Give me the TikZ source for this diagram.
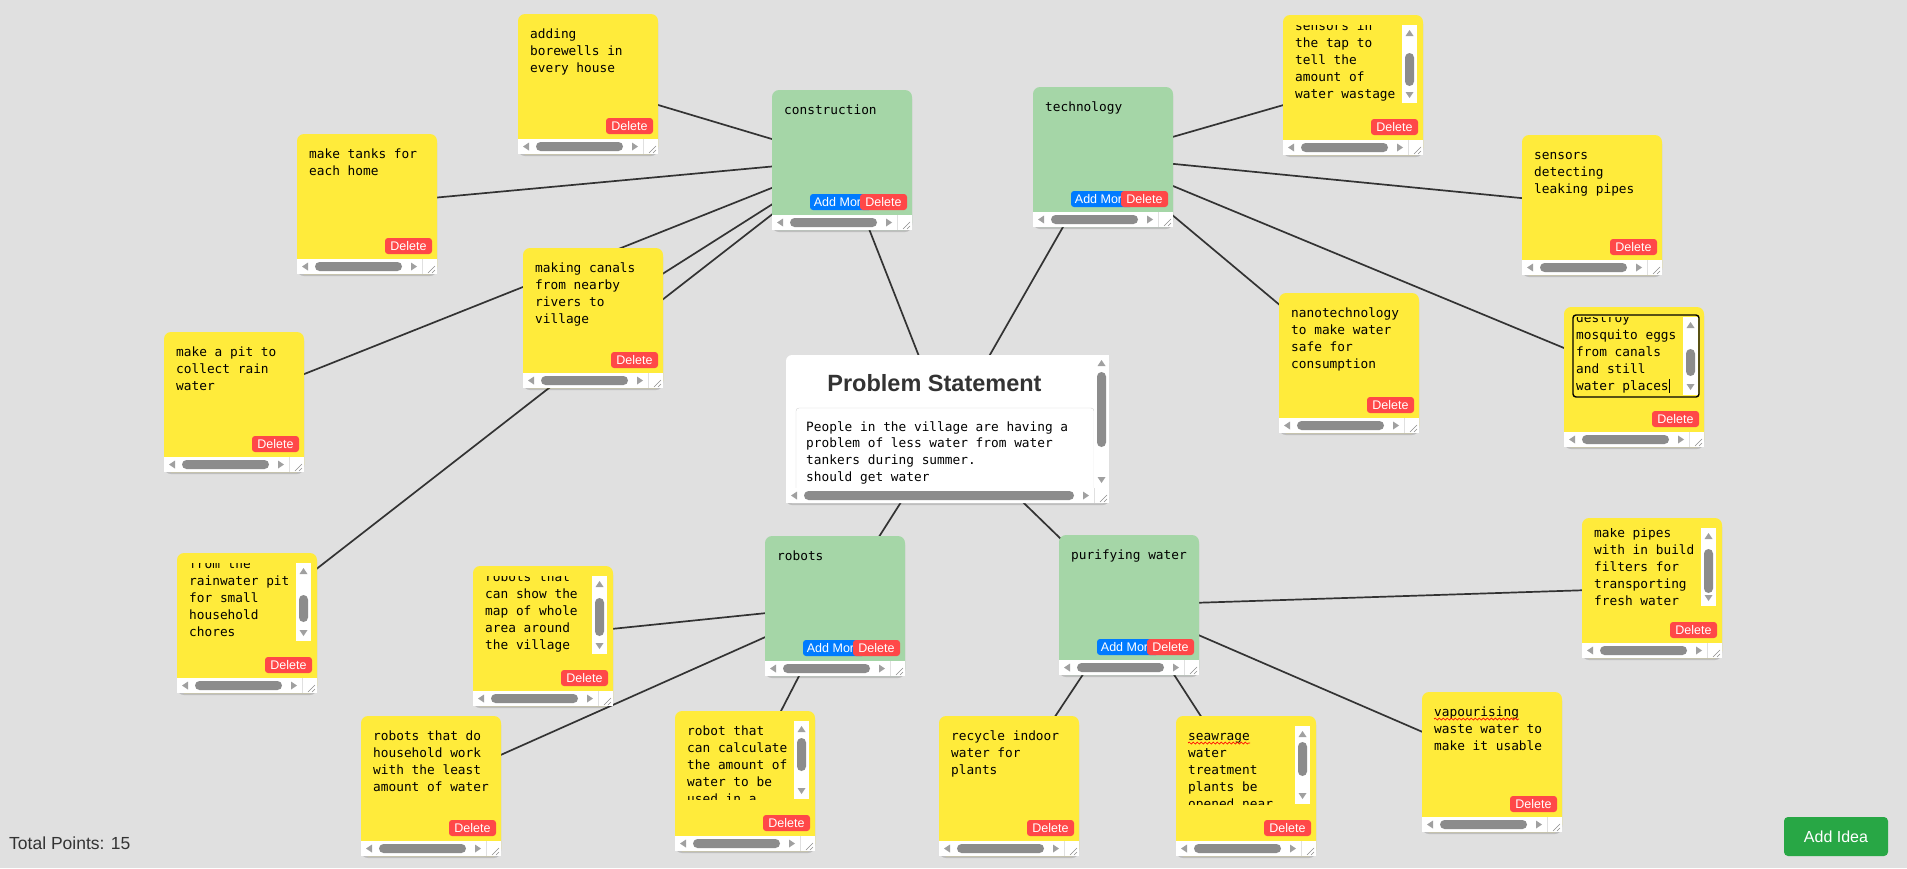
\documentclass[tikz,border=0pt]{standalone}
\usepackage{fontspec}
\setmainfont{Liberation Sans}
\setmonofont{DejaVu Sans Mono}
\usetikzlibrary{backgrounds,shadows,decorations.pathmorphing}
\definecolor{canvasgray}{RGB}{224,224,224}
\definecolor{noteyellow}{RGB}{255,235,59}
\definecolor{topicgreen}{RGB}{165,214,167}
\definecolor{delred}{RGB}{255,72,72}
\definecolor{addblue}{RGB}{0,123,255}
\definecolor{linkgray}{RGB}{51,51,51}
\definecolor{thumbgray}{RGB}{140,140,140}
\definecolor{arrowgray}{RGB}{160,160,160}
\definecolor{titlegray}{RGB}{51,51,51}
\definecolor{ideagreen}{RGB}{40,167,69}

\newcommand{\notefont}{\ttfamily\fontsize{12.8}{17}\selectfont}
\newcommand{\btnfont}{\fontsize{12.5}{14}\selectfont}
\newcommand{\titlefont}{\bfseries\fontsize{23.5}{28}\selectfont}

\tikzset{
  card/.style={rectangle, rounded corners=7pt, minimum width=140pt, minimum height=140pt,
    inner sep=0pt, drop shadow={opacity=.15, fill=black, shadow xshift=0pt, shadow yshift=-2pt}},
  notetext/.style={anchor=base west, inner sep=0pt, font=\notefont, text=black},
  delbtn/.style={rectangle, rounded corners=3pt, fill=delred, text=white, font=\btnfont,
    minimum width=47pt, minimum height=16pt, inner sep=0pt},
  addbtn/.style={delbtn, fill=addblue, minimum width=62pt},
  link/.style={draw=linkgray, line width=1.7pt},
  spell/.style={draw=red, line width=.7pt, decorate, decoration={snake, amplitude=1pt, segment length=4pt}}
}

% scroll bars: left x, top y, width / left x, top y, bottom y, thumb top, thumb bottom
\newcommand{\hscrollbar}[3]{%
  \fill[white] (#1,#2) rectangle ++(#3,15);
  \fill[arrowgray] (#1+5,#2+7.5) -- ++(6,-4) -- ++(0,8) -- cycle;
  \fill[thumbgray, rounded corners=4.5pt] (#1+18,#2+3) rectangle (#1+#3-35,#2+12);
  \fill[arrowgray] (#1+#3-20,#2+7.5) -- ++(-6,-4) -- ++(0,8) -- cycle;
  \draw[black!12] (#1+#3-15,#2) -- ++(0,15);
  \draw[black!45, line width=.6pt] (#1+#3-9,#2+14) -- ++(7,-7) (#1+#3-5,#2+14) -- ++(3,-3);
}
\newcommand{\vscrollbar}[5]{%
  \fill[white] (#1,#2) rectangle (#1+15,#3);
  \fill[arrowgray] (#1+7.5,#2+5) -- (#1+11.5,#2+11) -- (#1+3.5,#2+11) -- cycle;
  \fill[thumbgray, rounded corners=4.5pt] (#1+3,#4) rectangle (#1+12,#5);
  \fill[arrowgray] (#1+7.5,#3-5) -- (#1+11.5,#3-11) -- (#1+3.5,#3-11) -- cycle;
}

% yellow note: name, x, y, lines
\newcommand{\idea}[4]{%
  \node[card, fill=noteyellow] (#1) at (#2+70,#3+70) {};
  \foreach \noteline [count=\i] in {#4}
    \node[notetext] (#1-\i) at (#2+12,#3+7+17*\i) {\noteline};
  \node[delbtn] (#1-del) at (#2+111.5,#3+112) {Delete};
  \hscrollbar{#2}{#3+125}{140}
}
% yellow note with scrolled text: name, x, y, first baseline, thumb top, thumb bottom, lines
\newcommand{\scrollidea}[7]{%
  \node[card, fill=noteyellow] (#1) at (#2+70,#3+70) {};
  \begin{scope}
    \clip (#2,#3+10) rectangle (#2+119,#3+88);
    \foreach \noteline [count=\i] in {#7}
      \node[notetext] (#1-\i) at (#2+12,#3+#4-17+17*\i) {\noteline};
  \end{scope}
  \vscrollbar{#2+119}{#3+10}{#3+88}{#3+#5}{#3+#6}
  \node[delbtn] (#1-del) at (#2+111.5,#3+112) {Delete};
  \hscrollbar{#2}{#3+125}{140}
}
% green topic: name, x, y, label
\newcommand{\topic}[4]{%
  \node[card, fill=topicgreen] (#1) at (#2+70,#3+70) {};
  \node[notetext] (#1-1) at (#2+12,#3+24) {#4};
  \node[addbtn] (#1-add) at (#2+69,#3+112) {Add More};
  \node[delbtn] (#1-del) at (#2+111.5,#3+112) {Delete};
  \hscrollbar{#2}{#3+125}{140}
}

\begin{document}
\begin{tikzpicture}[x=1pt, y=-1pt]
  \useasboundingbox (0,0) rectangle (1907,868);
  \begin{scope}[on background layer]
    \fill[canvasgray] (0,0) rectangle (1907,868);
  \end{scope}

  % problem statement
  \node[card, fill=white, minimum width=323pt, minimum height=148pt, rounded corners=6pt] (problem) at (947.5,429) {};
  \node[font=\titlefont, text=titlegray, inner sep=0pt] (problem-title) at (934.5,383.3) {Problem Statement};
  \draw[black!18, rounded corners=3pt] (796,408) rectangle (1094,495);
  \foreach \noteline [count=\i] in {People in the village are having a,problem of less water from water,tankers during summer.,should get water}
    \node[notetext] (problem-\i) at (806,414.2+16.8*\i) {\noteline};
  \vscrollbar{1094}{355}{488}{372}{447}
  \hscrollbar{786}{488}{323}

  % topics
  \topic{construction}{772}{90}{construction}
  \topic{technology}{1033}{87}{technology}
  \topic{robots}{765}{536}{robots}
  \topic{purifying}{1059}{535}{purifying water}

  % ideas
  \idea{borewell}{518}{14}{adding,borewells in,every house}
  \idea{tanks}{297}{134}{make tanks for,each home}
  \idea{canals}{523}{248}{making canals,from nearby,rivers to,village}
  \idea{pit}{164}{332}{make a pit to,collect rain,water}
  \scrollidea{reuse}{177}{553}{15.3}{42}{69}{from the,rainwater pit,for small,household,chores}

  \scrollidea{tapsensor}{1283}{15}{15}{38}{71}{sensors in,the tap to,tell the,amount of,water wastage}
  \idea{leaksensor}{1522}{135}{sensors,detecting,leaking pipes}
  \idea{nano}{1279}{293}{nanotechnology,to make water,safe for,consumption}
  \scrollidea{mosquito}{1564}{307}{15}{42}{69}{destroy,mosquito eggs,from canals,and still,water places}
  \draw[black, line width=1.4pt, rounded corners=3pt] (1573,315) rectangle (1699,397);
  \draw[black, line width=.8pt] (1669,379) -- ++(0,14);

  \scrollidea{robotmap}{473}{566}{15.5}{32}{70}{robots that,can show the,map of whole,area around,the village}
  \idea{household}{361}{716}{robots that do,household work,with the least,amount of water}
  \scrollidea{robotcalc}{675}{711}{24}{27}{60}{robot that,can calculate,the amount of,water to be,used in a}

  \scrollidea{pipes}{1582}{518}{19}{31}{75}{make pipes,with in build,filters for,transporting,fresh water}
  \idea{recycle}{939}{716}{recycle indoor,water for,plants}
  \scrollidea{sewage}{1176}{716}{24}{26}{60}{seawrage,water,treatment,plants be,opened near}
  \draw[spell] (1188,743) -- ++(62,0);
  \idea{vapour}{1422}{692}{vapourising,waste water to,make it usable}
  \draw[spell] (1434,719) -- ++(85,0);

  % footer
  \node[anchor=base west, inner sep=0pt, font=\fontsize{17.5}{20}\selectfont, text=titlegray] (points) at (9,849) {Total Points: 15};
  \node[rectangle, rounded corners=4pt, fill=ideagreen, text=white, font=\fontsize{16}{19}\selectfont,
    minimum width=104pt, minimum height=39pt] (addidea) at (1836,836.5) {Add Idea};

  % connectors
  \begin{scope}[on background layer]
    \foreach \from/\to in {problem/construction,problem/technology,problem/robots,problem/purifying,
        construction/borewell,construction/tanks,construction/pit,construction/canals,construction/reuse,
        technology/tapsensor,technology/leaksensor,technology/mosquito,technology/nano,
        robots/robotmap,robots/household,robots/robotcalc,
        purifying/pipes,purifying/vapour,purifying/recycle,purifying/sewage}
      \draw[link] (\from.center) -- (\to.center);
  \end{scope}
\end{tikzpicture}
\end{document}
